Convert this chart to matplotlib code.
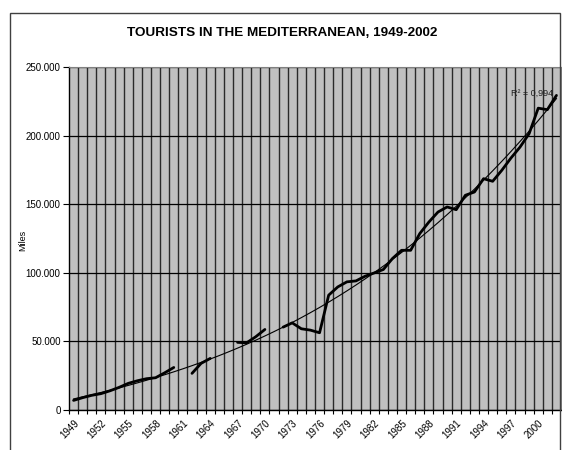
import numpy as np
import matplotlib
matplotlib.use("Agg")
import matplotlib.pyplot as plt
from matplotlib.patches import Rectangle
from matplotlib.ticker import FuncFormatter

plt.rcParams["font.family"] = ["Liberation Sans", "DejaVu Sans"]

years = list(range(1949, 2003))
# tourists (thousands), None = no data for that year
tourists = [
    7000, 9000, 10700, 11900, 14000, 16500, 19400, 21300, 22800, 23500,   # 1949-1958
    27100, 31000, None, 26700, 34000, 37600, None, None, 49300, 49000,    # 1959-1968
    53400, 58700, None, 60400, 63500, 59200, 58200, 56300, 83700, 89700,  # 1969-1978
    93400, 94100, 97500, 99900, 102400, 110400, 116400, 116400, 128600, 137000,  # 1979-1988
    144300, 148000, 146000, 156500, 158900, 168600, 166700, 174700, 183600, 191600,  # 1989-1998
    201400, 220000, 218900, 229300,  # 1999-2002
]
label_years = list(range(1949, 2001, 3))

x = np.array(years, dtype=float)
y = np.array([np.nan if v is None else v for v in tourists], dtype=float)

# polynomial trend line, like the spreadsheet trendline
ok = ~np.isnan(y)
xc = x - 1975
coef = np.polyfit(xc[ok], y[ok], 3)
fit = np.polyval(coef, xc)

fig = plt.figure(figsize=(5.62, 4.5), dpi=100)
fig.patches.append(Rectangle((10 / 562, -0.05), 550 / 562, 1 - 13 / 450 + 0.05,
                             transform=fig.transFigure, fill=False,
                             edgecolor="#404040", linewidth=1.0))

ax = fig.add_axes([69 / 562, 40 / 450, 492 / 562, 343 / 450])
ax.set_facecolor("#c0c0c0")

ax.plot(x, fit, color="black", linewidth=0.8, zorder=3)
ax.plot(x, y, color="black", linewidth=2.0, solid_capstyle="round", zorder=4)

ax.set_xlim(1948.5, 2002.5)
ax.set_ylim(0, 250000)

# category boundaries: ticks and vertical gridlines
bounds = np.arange(1948.5, 2003, 1.0)
ax.set_xticks(bounds[:-1])
ax.set_xticklabels([])
ax.tick_params(axis="x", which="major", length=3, width=0.8, color="black")
for b in bounds[1:-1]:
    ax.axvline(b, color="#2a2a2a", linewidth=1.0, zorder=1)

ax.set_xticks(label_years, minor=True)
ax.set_xticklabels([str(v) for v in label_years], minor=True, rotation=45,
                   ha="right", va="top", rotation_mode="anchor", fontsize=7)
ax.tick_params(axis="x", which="minor", length=0, pad=6)

ax.set_yticks(np.arange(0, 250001, 50000))
ax.yaxis.set_major_formatter(FuncFormatter(lambda v, p: f"{int(v):,}".replace(",", ".")))
ax.tick_params(axis="y", length=4, width=0.8, labelsize=7, pad=2)
ax.grid(axis="y", color="black", linewidth=0.9, zorder=2)

for s in ("left", "bottom"):
    ax.spines[s].set_color("black")
    ax.spines[s].set_linewidth(1.0)
for s in ("top", "right"):
    ax.spines[s].set_color("#808080")
    ax.spines[s].set_linewidth(0.8)

ax.text(2001.6, 231000, "R² = 0,994", fontsize=6.5, ha="right", va="center",
        color="#202020", zorder=5)

fig.text(23 / 562, 1 - 240 / 450, "Miles", rotation=90, fontsize=6.5,
         ha="center", va="center")
fig.text(282 / 562, 1 - 33 / 450, "TOURISTS IN THE MEDITERRANEAN, 1949-2002",
         fontsize=9.7, fontweight="bold", ha="center", va="center")

fig.savefig("out.png", dpi=100)
